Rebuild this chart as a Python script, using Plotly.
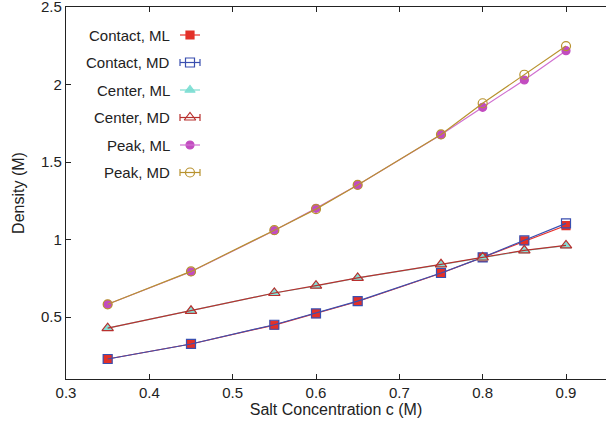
import plotly.graph_objects as go

salt = [0.35, 0.45, 0.55, 0.6, 0.65, 0.75, 0.8, 0.85, 0.9]
contact_ml = [0.229, 0.326, 0.448, 0.522, 0.600, 0.782, 0.885, 0.992, 1.090]
contact_md = [0.229, 0.326, 0.450, 0.524, 0.602, 0.784, 0.885, 0.995, 1.104]
center_ml = [0.428, 0.540, 0.655, 0.700, 0.752, 0.838, 0.882, 0.928, 0.960]
center_md = [0.428, 0.540, 0.655, 0.702, 0.752, 0.840, 0.884, 0.930, 0.962]
peak_ml = [0.582, 0.792, 1.058, 1.201, 1.352, 1.676, 1.853, 2.029, 2.218]
peak_md = [0.582, 0.794, 1.060, 1.196, 1.352, 1.678, 1.879, 2.063, 2.248]

names = ["Contact, ML", "Contact, MD", "Center, ML", "Center, MD", "Peak, ML", "Peak, MD"]
series = [contact_ml, contact_md, center_ml, center_md, peak_ml, peak_md]
line_colors = ["#e8302a", "#3a4fb0", "#7fdcd0", "#b8302e", "#d070d0", "#b8922e"]
marker_col = ["#e23028", "#3a4fb0", "#84e0d6", "#b8302e", "#c24cc0", "#b8922e"]
symbols = ["square", "square-open", "triangle-up", "triangle-up-open", "circle", "circle-open"]
sizes = [8, 9, 9, 10, 8, 9]

W, H = 606, 424
L, R, T, B = 66, 0, 7, 45
pw, ph = W - L - R, H - T - B

fig = go.Figure()
for nm, ys, lc, mc, sy, sz in zip(names, series, line_colors, marker_col, symbols, sizes):
    fig.add_trace(go.Scatter(
        x=salt, y=ys, mode="lines+markers", name=nm, showlegend=False,
        line=dict(color=lc, width=1.2),
        marker=dict(symbol=sy, size=sz, color=mc, line=dict(color=mc, width=1.2)),
    ))

# manual legend (gnuplot style: text right-aligned, key sample with caps)
leg_text_right = 172
leg_x0, leg_x1, leg_xm = 180, 200, 190
leg_rows = [35, 62.5, 90, 117.5, 145, 172.5]

def px2paper(px, py):
    return (px - L) / pw, (H - B - py) / ph

font_fam = "Liberation Sans, Arial, sans-serif"
shapes = []
annotations = []
for i, (nm, lc, mc, sy, sz) in enumerate(zip(names, line_colors, marker_col, symbols, sizes)):
    py = leg_rows[i]
    xt, yt = px2paper(leg_text_right, py)
    annotations.append(dict(x=xt, y=yt, xref="paper", yref="paper", text=nm, showarrow=False,
                            xanchor="right", yanchor="middle",
                            font=dict(family=font_fam, size=15, color="#222")))
    xa, ya = px2paper(leg_x0, py)
    xb, _ = px2paper(leg_x1, py)
    shapes.append(dict(type="line", xref="paper", yref="paper", x0=xa, x1=xb, y0=ya, y1=ya,
                       line=dict(color=lc, width=1.2)))
    if i % 2 == 1:
        dy = 3.5 / ph
        for xx in (xa, xb):
            shapes.append(dict(type="line", xref="paper", yref="paper", x0=xx, x1=xx, y0=ya - dy, y1=ya + dy,
                               line=dict(color=lc, width=1.2)))
    xm, ym = px2paper(leg_xm, py)
    fig.add_trace(go.Scatter(x=[xm], y=[ym], xaxis="x2", yaxis="y2", mode="markers", showlegend=False,
                             hoverinfo="skip",
                             marker=dict(symbol=sy, size=sz, color=mc, line=dict(color=mc, width=1.2))))

tick_font = dict(family=font_fam, size=15, color="#222")
title_font = dict(family=font_fam, size=16, color="#222")
fig.update_layout(
    width=W, height=H, margin=dict(l=L, r=R, t=T, b=B, autoexpand=False),
    plot_bgcolor="white", paper_bgcolor="white",
    shapes=shapes, annotations=annotations,
    xaxis=dict(range=[0.3, 0.948], tickvals=[0.3, 0.4, 0.5, 0.6, 0.7, 0.8, 0.9],
               ticktext=["0.3", "0.4", "0.5", "0.6", "0.7", "0.8", "0.9"],
               ticks="inside", ticklen=5, tickcolor="#222", showline=True, linecolor="#222", linewidth=1.3,
               mirror="ticks", showgrid=False, zeroline=False, tickfont=tick_font, automargin=False,
               ticklabeloverflow="allow",
               title=dict(text="Salt Concentration c (M)", font=title_font, standoff=1)),
    yaxis=dict(range=[0.1, 2.5], tickvals=[0.5, 1, 1.5, 2, 2.5],
               ticktext=["0.5", "1", "1.5", "2", "2.5"],
               ticks="inside", ticklen=5, tickcolor="#222", showline=True, linecolor="#222", linewidth=1.3,
               showgrid=False, zeroline=False, tickfont=tick_font, automargin=False,
               ticklabeloverflow="allow",
               title=dict(text="Density (M)", font=title_font, standoff=12)),
    xaxis2=dict(range=[0, 1], overlaying="x", visible=False, fixedrange=True),
    yaxis2=dict(range=[0, 1], overlaying="y", visible=False, fixedrange=True),
)

fig.write_html("out.html", config={"displayModeBar": False},
               post_script="document.body.style.margin='0';document.body.style.overflow='hidden';")
